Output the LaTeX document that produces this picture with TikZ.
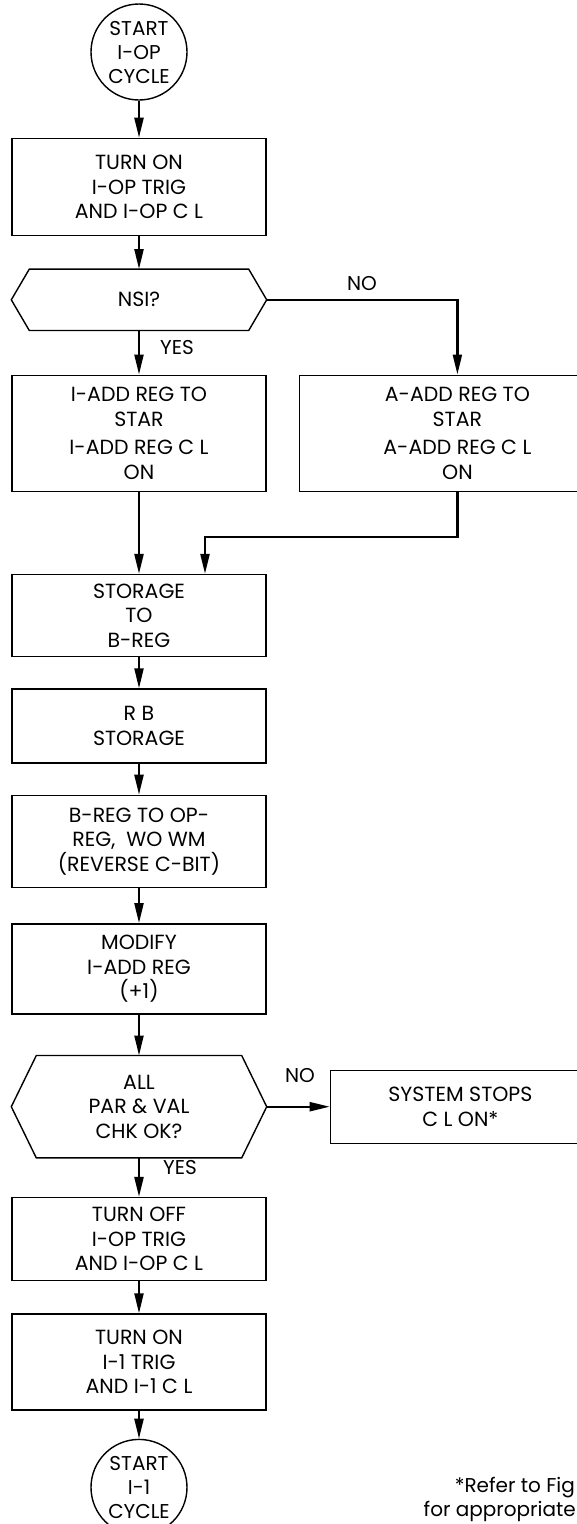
\documentclass[tikz,border=0pt]{standalone}
\usepackage{fontspec}
\setmainfont{Poppins}
\usetikzlibrary{positioning,arrows.meta,calc}

% outline of a decision hexagon round a (undrawn) rectangular node
\newcommand{\hexoutline}[2]{%
  \draw[line width=1.4pt] ($(#1.north west)+(#2,0)$) -- ($(#1.north east)+(-#2,0)$)
    -- (#1.east) -- ($(#1.south east)+(-#2,0)$) -- ($(#1.south west)+(#2,0)$)
    -- (#1.west) -- cycle;}

\begin{document}
\begin{tikzpicture}[x=1pt,y=-1pt,>={Triangle[length=20pt,width=9pt]},node distance=32pt]
  \tikzstyle{flowbox}=[draw,line width=1.4pt,minimum width=254pt,align=center,
    inner sep=0pt,font=\fontsize{20.5}{24.5}\selectfont]
  \tikzstyle{termcirc}=[draw,circle,line width=1.4pt,minimum size=96pt,inner sep=0pt,
    align=center,font=\fontsize{20}{24}\selectfont]
  \tikzstyle{hexnode}=[minimum width=255pt,align=center,inner sep=0pt,
    font=\fontsize{20.5}{24.5}\selectfont]
  \tikzstyle{flow}=[->,line width=2.2pt]
  \tikzstyle{lbl}=[inner sep=0pt,font=\fontsize{20}{22}\selectfont]
  \useasboundingbox (0,0) rectangle (577,1524);
  \clip (0,0) rectangle (577,1524);

  \node[termcirc] (start) at (139,52) {START\\I-OP\\CYCLE};
  \node[flowbox,minimum height=97pt,below=37pt of start] (opon) {TURN ON\\I-OP TRIG\\AND I-OP C L};
  \node[hexnode,minimum height=61pt,below=33pt of opon] (nsi) {NSI?};
  \hexoutline{nsi}{18}
  \node[flowbox,minimum height=116pt,below=44pt of nsi] (iadd)
    {I-ADD REG TO\\STAR\\[4pt]I-ADD REG C L\\ON};
  \node[flowbox,minimum width=316pt,minimum height=116pt,right=32pt of iadd] (aadd)
    {A-ADD REG TO\\STAR\\[4pt]A-ADD REG C L\\ON};
  \node[flowbox,minimum height=82pt,below=82pt of iadd] (stor) {STORAGE\\TO\\B-REG};
  \node[flowbox,minimum height=74pt,below=31pt of stor] (rb) {R B\\STORAGE};
  \node[flowbox,minimum height=92pt,below=31pt of rb] (bop)
    {B-REG TO OP-\\REG,\ \ WO WM\\(REVERSE C-BIT)};
  \node[flowbox,minimum height=90pt,below=35pt of bop] (mod) {MODIFY\\I-ADD REG\\(+1)};
  \node[hexnode,minimum height=102pt,below=41pt of mod] (chk) {ALL\\PAR \& VAL\\CHK OK?};
  \hexoutline{chk}{25}
  \node[flowbox,minimum width=260pt,minimum height=73pt,right=63pt of chk] (stop)
    {SYSTEM STOPS\\C L ON*};
  \node[flowbox,minimum height=83pt,below=39pt of chk] (opoff) {TURN OFF\\I-OP TRIG\\AND I-OP C L};
  \node[flowbox,minimum height=96pt,below=32pt of opoff] (ionon) {TURN ON\\I-1 TRIG\\AND I-1 C L};
  \node[termcirc,below=28pt of ionon] (endc) {START\\I-1\\CYCLE};

  \node[lbl] (nsino) at (362,284) {NO};
  \node[lbl] (nsiyes) at (177,348) {YES};
  \node[lbl] (chkno) at (300,1076) {NO};
  \node[lbl] (chkyes) at (180,1167) {YES};
  \node[lbl,anchor=base east] (note1) at (575,1492) {*Refer to Fig};
  \node[lbl,anchor=base east] (note2) at (576,1516) {for appropriate};

  \coordinate (merge) at ($(stor.north)+(66,-37)$);
  \draw[flow] (start) -- (opon);
  \draw[flow] (opon) -- (nsi);
  \draw[flow] (nsi) -- (iadd);
  \draw[flow] (nsi.east) -| (aadd);
  \draw[flow] (iadd) -- (stor);
  \draw[flow] (aadd.south) |- (merge) -- (merge |- stor.north);
  \draw[flow] (stor) -- (rb);
  \draw[flow] (rb) -- (bop);
  \draw[flow] (bop) -- (mod);
  \draw[flow] (mod) -- (chk);
  \draw[flow] (chk) -- (stop);
  \draw[flow] (chk) -- (opoff);
  \draw[flow] (opoff) -- (ionon);
  \draw[flow] (ionon) -- (endc);
\end{tikzpicture}
\end{document}
